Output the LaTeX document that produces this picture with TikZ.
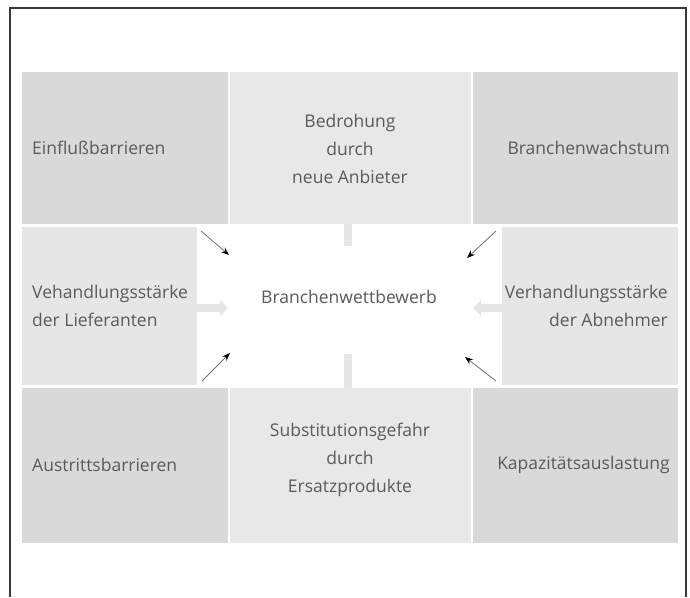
\documentclass[tikz,border=0pt]{standalone}
\usepackage{fontspec}
\setmainfont{Open Sans}
\usetikzlibrary{arrows.meta}
\definecolor{darkbox}{HTML}{D9D9D9}
\definecolor{midbox}{HTML}{E8E8E8}
\definecolor{sidebox}{HTML}{E6E6E6}
\definecolor{txt}{HTML}{5A5A5A}
\definecolor{framec}{HTML}{3A3A3A}
\definecolor{stubc}{HTML}{E6E6E6}
\definecolor{arrc}{HTML}{707070}
\begin{document}
\begin{tikzpicture}[x=1pt,y=-1pt,
  box/.style={rectangle,inner sep=0pt,anchor=north west,draw=none},
  lbl/.style={font=\fontsize{17.5}{28}\selectfont,text=txt,inner sep=0pt},
  lleft/.style={lbl,anchor=west,align=left},
  lright/.style={lbl,anchor=east,align=right},
  lmid/.style={lbl,anchor=center,align=center},
  diag/.style={arrc,line width=0.8pt,-{Stealth[length=8pt,width=6pt,black]}},
  stub/.style={stubc,line width=8pt},
  stubarrow/.style={stubc,line width=8pt,-{Triangle[length=8pt,width=15pt]}}]
\useasboundingbox (0,0) rectangle (690,597);
\fill[white] (0,0) rectangle (690,597);
\draw[framec,line width=1.5pt] (10,597) -- (10,8) -- (686,8) -- (686,597);

% top row
\node[box,fill=darkbox,minimum width=206pt,minimum height=152pt] (tl) at (22,72) {};
\node[box,fill=midbox,minimum width=241pt,minimum height=152pt] (tm) at (230,72) {};
\node[box,fill=darkbox,minimum width=205pt,minimum height=152pt] (tr) at (473,72) {};
% middle row
\node[box,fill=sidebox,minimum width=175pt,minimum height=158pt] (ml) at (22,227) {};
\node[box,fill=sidebox,minimum width=176pt,minimum height=158pt] (mr) at (502,227) {};
% bottom row
\node[box,fill=darkbox,minimum width=206pt,minimum height=155pt] (bl) at (22,388) {};
\node[box,fill=midbox,minimum width=241pt,minimum height=155pt] (bm) at (230,388) {};
\node[box,fill=darkbox,minimum width=205pt,minimum height=155pt] (br) at (473,388) {};

% block connectors
\coordinate (ts) at (348,246);
\coordinate (bs) at (348,354);
\coordinate (ls) at (228,308);
\coordinate (rs) at (473,308);
\draw[stub] (tm.south -| ts) -- (ts);
\draw[stub] (bm.north -| bs) -- (bs);
\draw[stubarrow] (ml.east |- ls) -- (ls);
\draw[stubarrow] (mr.west |- rs) -- (rs);

% texts
\node[lleft] (t1) at (32,148) {Einflußbarrieren};
\node[lmid] (t2) at (350,149) {Bedrohung\\durch\\neue Anbieter};
\node[lright] (t3) at (670,148) {Branchenwachstum};
\node[lleft] (t4) at (32,306) {Vehandlungsstärke\\der Lieferanten};
\node[lmid] (c) at (349,297) {Branchenwettbewerb};
\node[lright] (t6) at (668,306) {Verhandlungsstärke\\der Abnehmer};
\node[lleft] (t7) at (32,465) {Austrittsbarrieren};
\node[lmid] (t8) at (350,460) {Substitutionsgefahr\\durch\\Ersatzprodukte};
\node[lright] (t9) at (670,465) {Kapazitätsauslastung};

% diagonal arrows
\coordinate (a1s) at (201,231);
\coordinate (a1e) at (229,255);
\coordinate (a2s) at (496,231);
\coordinate (a2e) at (467,258);
\coordinate (a3s) at (202,381);
\coordinate (a3e) at (230,353);
\coordinate (a4s) at (496,381);
\coordinate (a4e) at (465,357);
\draw[diag] (a1s) -- (a1e);
\draw[diag] (a2s) -- (a2e);
\draw[diag] (a3s) -- (a3e);
\draw[diag] (a4s) -- (a4e);
\end{tikzpicture}
\end{document}
